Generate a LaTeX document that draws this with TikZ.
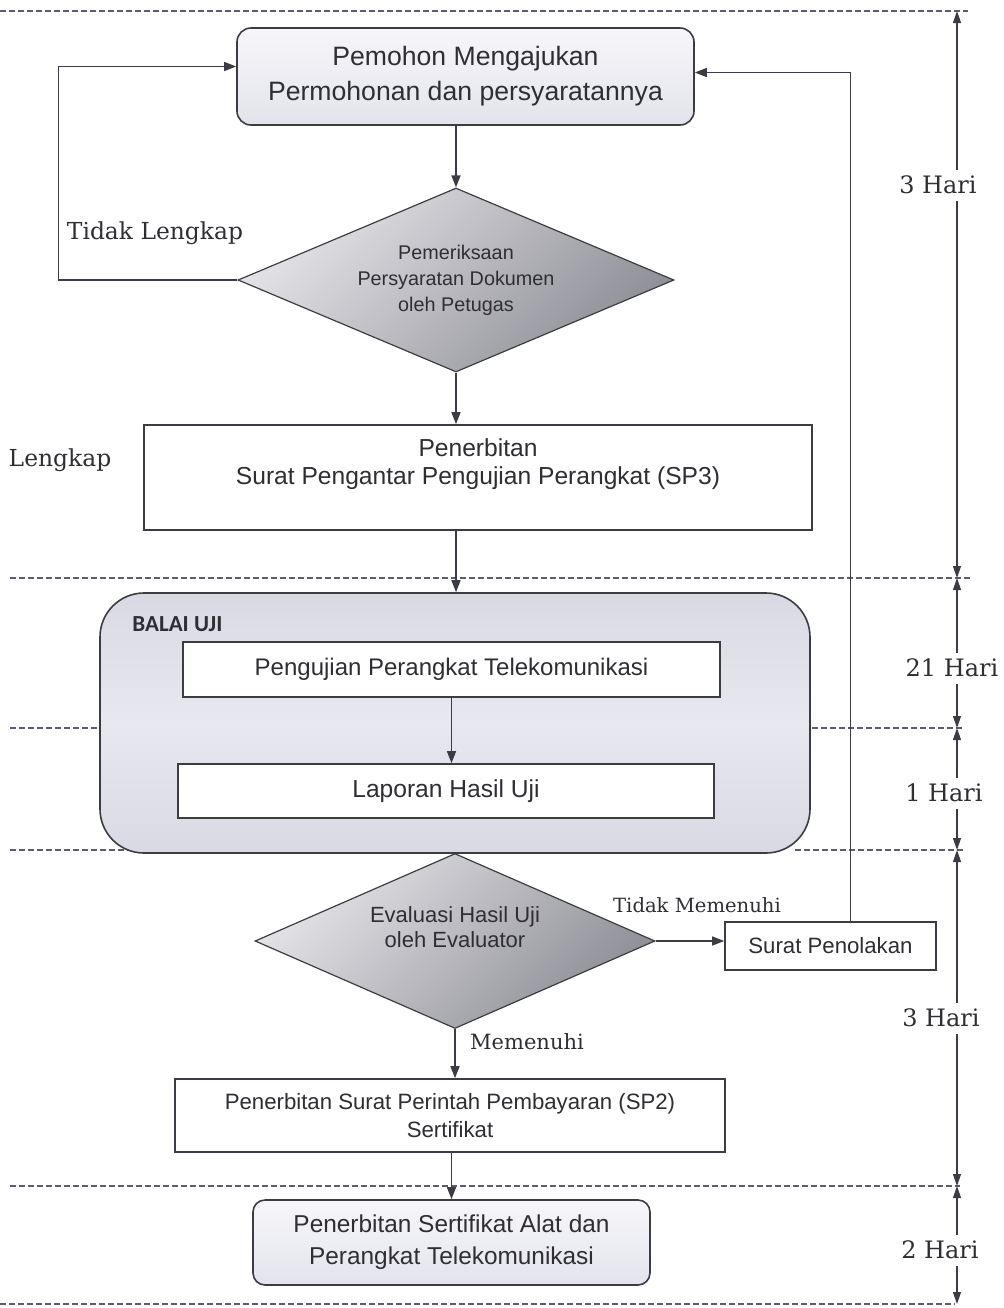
\documentclass[tikz,border=0pt]{standalone}
\usepackage{fontspec}
\setsansfont{Liberation Sans}
\newfontfamily\serlbl{DejaVu Serif}
\newfontfamily\calib{Carlito}
\usepackage{tikz}
\usetikzlibrary{shapes.geometric}
\usetikzlibrary{arrows.meta,positioning}
\definecolor{lineC}{HTML}{3C3C44}
\definecolor{dashC}{HTML}{5A5C70}
\definecolor{txtC}{HTML}{2E2E33}
\definecolor{diaA}{HTML}{E4E4E8}
\definecolor{diaB}{HTML}{8E8E96}
\definecolor{boxA}{HTML}{F7F7FA}
\definecolor{boxB}{HTML}{E3E4EB}
\definecolor{balA}{HTML}{D8D9E2}
\definecolor{balB}{HTML}{E8E9EF}
\newcommand\hr[1]{{\serlbl\fontsize{12}{14}\selectfont #1}}

\begin{document}
\begin{tikzpicture}[x=0.5pt, y=-0.5pt, line width=.1ex,
  flow/.style={draw=lineC, line width=0.7pt, -{Triangle[length=6pt,width=4.5pt]}},
  dayline/.style={draw=lineC, line width=0.6pt, -{Triangle[length=6pt,width=4pt]}},
  sepline/.style={draw=dashC, line width=0.6pt, dash pattern=on 3pt off 1.5pt},
  roundbox/.style={draw=lineC, line width=0.8pt, rounded corners=7pt, top color=boxA, bottom color=boxB, text=txtC, align=center},
  plainbox/.style={draw=lineC, line width=0.8pt, fill=white, text=txtC, align=center},
  balaibox/.style={draw=lineC, line width=0.8pt, rounded corners=22pt, top color=balA, bottom color=balA, middle color=balB},
  decide/.style={diamond, draw=lineC, line width=0.6pt, inner sep=1pt, top color=diaA, bottom color=diaB, shading angle=45, text=txtC, align=center},
  lbl/.style={text=txtC, inner sep=3pt}]
%\draw[step=50,gray,very thin] (0,0) grid (1004,1308);
\useasboundingbox (0,0) rectangle (1004,1308);%%
% dashed time bands
\draw[sepline] (0,11) -- (968,11);%%
\draw[sepline] (10,578) -- (972,578);%%
\draw[sepline] (10,728) -- (100,728);%%
\draw[sepline] (812,728) -- (965,728);%%
\draw[sepline] (10,850) -- (130,850);%%
\draw[sepline] (795,850) -- (965,850);%%
\draw[sepline] (10,1186) -- (960,1186);%%
\draw[sepline] (0,1304) -- (955,1304);%%
\coordinate (d0) at (957,11);%%
\coordinate (d1) at (957,578);%%
\coordinate (d2) at (957,728);%%
\coordinate (d3) at (957,850);%%
\coordinate (d4) at (957,1186);%%
\coordinate (d5) at (957,1304);%%
% flow nodes
\node[roundbox, minimum width=228.5pt, minimum height=48.5pt, font=\sffamily\fontsize{13.3}{17.5}\selectfont] (start) at (465.5,76.5) {Pemohon Mengajukan\\Permohonan dan persyaratannya};%%
\node[decide, minimum width=218pt, minimum height=92pt, aspect=2.37, font=\sffamily\fontsize{9.9}{13}\selectfont] (chk) at (456,280) {Pemeriksaan\\Persyaratan Dokumen\\oleh Petugas};%%
\node[plainbox, minimum width=334pt, minimum height=52.5pt, font=\sffamily\fontsize{12.3}{14}\selectfont] (sp3) at (478,477.5) {Penerbitan\\Surat Pengantar Pengujian Perangkat (SP3)\\[2pt]~};%%
\node[balaibox, minimum width=355pt, minimum height=130pt] (balai) at (455,723) {};%%
\node[anchor=west, inner sep=0pt, text=txtC, font=\calib\bfseries\fontsize{11.5}{13}\selectfont] (balaiLbl) at (132,624) {BALAI UJI};%%
\node[plainbox, minimum width=268.5pt, minimum height=27.5pt, font=\sffamily\fontsize{12}{14}\selectfont] (uji) at (451.5,669.5) {Pengujian Perangkat Telekomunikasi};%%
\node[plainbox, minimum width=268pt, minimum height=27pt, font=\sffamily\fontsize{12.3}{14}\selectfont] (lap) at (446,791) {Laporan Hasil Uji};%%
\node[decide, minimum width=200pt, minimum height=87.5pt, aspect=2.29, font=\sffamily\fontsize{11}{12.5}\selectfont] (eval) at (455,941) {Evaluasi Hasil Uji\\oleh Evaluator\\[1pt]~};%%
\node[plainbox, minimum width=105.5pt, minimum height=24pt, font=\sffamily\fontsize{11.1}{13}\selectfont] (tolak) at (830.5,946) {Surat Penolakan};%%
\node[plainbox, minimum width=275pt, minimum height=36.5pt, font=\sffamily\fontsize{11.1}{14}\selectfont] (sp2) at (450,1115.5) {Penerbitan Surat Perintah Pembayaran (SP2)\\Sertifikat};%%
\node[roundbox, rounded corners=6pt, minimum width=198.5pt, minimum height=42.5pt, font=\sffamily\fontsize{12.2}{16}\selectfont] (fin) at (451.5,1242.5) {Penerbitan Sertifikat Alat dan\\Perangkat Telekomunikasi};%%
% branch labels
\node[lbl, font=\serlbl\fontsize{11.7}{14}\selectfont] (tl) at (155,233) {Tidak Lengkap};%%
\node[lbl, font=\serlbl\fontsize{11.7}{14}\selectfont] (lk) at (60,460) {Lengkap};%%
\node[lbl, font=\serlbl\fontsize{9.8}{12}\selectfont] (tm) at (697,905) {Tidak Memenuhi};%%
\node[lbl, font=\serlbl\fontsize{10.5}{12}\selectfont] (mm) at (527,1042) {Memenuhi};%%
% connectors
\draw[flow] (start.south -| chk.north) -- (chk.north);%%
\draw[flow] (chk.west) -- ++(-179,0) |- ([yshift=5pt]start.west);%%
\draw[flow] (chk.south) -- (chk.south |- sp3.north);%%
\draw[flow] (sp3.south -| chk.south) -- (balai.north -| chk.south);%%
\draw[flow] (uji.south) -- (uji.south |- lap.north);%%
\draw[flow] (eval.east) -- (eval.east -| tolak.west);%%
\draw[flow] ([xshift=10pt]tolak.north) |- ([yshift=2pt]start.east);%%
\draw[flow] (eval.south) -- (eval.south |- sp2.north);%%
\draw[flow] (sp2.south -| fin.north) -- (fin.north);%%
% day counts
\node[lbl] (h1) at (938,185) {\hr{3 Hari}};%%
\node[lbl] (h2) at (952,668) {\hr{21 Hari}};%%
\node[lbl] (h3) at (944,793) {\hr{1 Hari}};%%
\node[lbl] (h4) at (941,1018) {\hr{3 Hari}};%%
\node[lbl] (h5) at (940,1250) {\hr{2 Hari}};%%
\draw[dayline] (h1.north -| d0) -- (d0);%%
\draw[dayline] (h1.south -| d1) -- (d1);%%
\draw[dayline] (h2.north -| d1) -- (d1);%%
\draw[dayline] (h2.south -| d2) -- (d2);%%
\draw[dayline] (h3.north -| d2) -- (d2);%%
\draw[dayline] (h3.south -| d3) -- (d3);%%
\draw[dayline] (h4.north -| d3) -- (d3);%%
\draw[dayline] (h4.south -| d4) -- (d4);%%
\draw[dayline] (h5.north -| d4) -- (d4);%%
\draw[dayline] (h5.south -| d5) -- (d5);%%
\end{tikzpicture}
\end{document}
